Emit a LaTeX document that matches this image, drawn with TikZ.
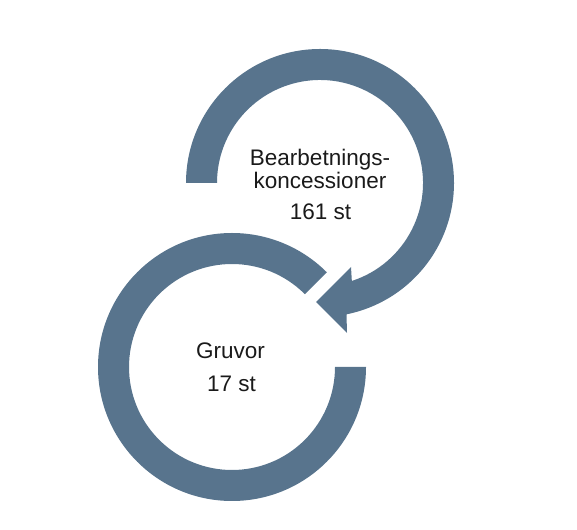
\documentclass[tikz,border=0pt]{standalone}
\usepackage{fontspec}
\setmainfont{Liberation Sans}
\definecolor{ringblue}{RGB}{88,116,141}
\definecolor{txt}{RGB}{26,26,26}
\begin{document}
\begin{tikzpicture}[x=1pt,y=1pt,
  ring/.style={fill=ringblue},
  lbl/.style={anchor=base,text=txt,inner sep=0pt,font=\fontsize{22.5}{24}\selectfont}]
\useasboundingbox (0,0) rectangle (577,529);
% centres
\coordinate (cu) at (320,346);
\coordinate (cl) at (232,162);
% arrow head points
\coordinate (obarb) at (347,196);
\coordinate (tip) at (316,227);
\coordinate (ibarb) at (351,262);
% upper ring with arrow head
\fill[ring] ([shift={(180:134)}]cu) arc[start angle=180,end angle=-78.6,radius=134]
  -- (obarb) -- (tip) -- (ibarb)
  -- ([shift={(-72:103)}]cu) arc[start angle=-72,end angle=180,radius=103] -- cycle;
% lower ring
\fill[ring] ([shift={(0:134)}]cl) arc[start angle=0,end angle=-315,radius=134]
  -- ([shift={(45:103)}]cl) arc[start angle=45,end angle=360,radius=103] -- cycle;
% labels
\node[lbl] (t1) at (320,363.3) {Bearbetnings-};
\node[lbl] (t2) at (320,340.7) {koncessioner};
\node[lbl] (t3) at (320.5,309) {161 st};
\node[lbl] (g1) at (230.5,170.7) {Gruvor};
\node[lbl] (g2) at (231.5,137.3) {17 st};
\end{tikzpicture}
\end{document}
